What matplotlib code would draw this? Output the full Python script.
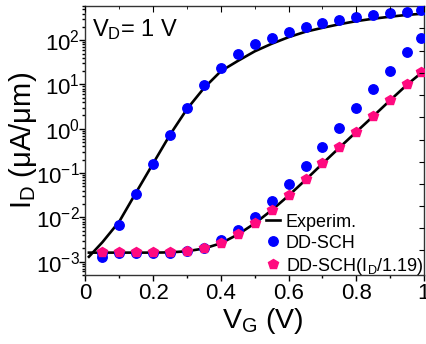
import matplotlib
matplotlib.use("Agg")
import matplotlib.pyplot as plt
from matplotlib.ticker import LogLocator, FixedLocator, MultipleLocator, NullFormatter, LogFormatterSciNotation

plt.rcParams['font.family'] = ['Liberation Sans', 'DejaVu Sans']
plt.rcParams['mathtext.fontset'] = 'custom'
plt.rcParams['mathtext.rm'] = 'Liberation Sans'
plt.rcParams['mathtext.it'] = 'Liberation Sans:italic'
plt.rcParams['mathtext.bf'] = 'Liberation Sans:bold'
plt.rcParams['mathtext.sf'] = 'Liberation Sans'

# ---- data ----
vg_pts = [0.05, 0.10, 0.15, 0.20, 0.25, 0.30, 0.35, 0.40, 0.45, 0.50,
          0.55, 0.60, 0.65, 0.70, 0.75, 0.80, 0.85, 0.90, 0.95, 0.99]

# DD-SCH, device with low threshold (left branch)
sch_left = [1.3e-3, 6.7e-3, 0.033, 0.158, 0.71, 2.9, 9.7, 24, 48, 81,
            114, 153, 195, 240, 281, 333, 370, 410, 440, 488]

# DD-SCH, device with high threshold (right branch)
sch_right = [1.6e-3, 1.6e-3, 1.6e-3, 1.6e-3, 1.6e-3, 1.75e-3, 2.05e-3, 3.1e-3, 5.2e-3, 0.0104,
             0.0234, 0.056, 0.147, 0.394, 1.06, 2.9, 7.8, 20, 53, 114]

# DD-SCH (I_D/1.19)
sch_scaled = [1.63e-3, 1.63e-3, 1.63e-3, 1.63e-3, 1.63e-3, 1.75e-3, 2.0e-3, 2.6e-3, 4.15e-3, 7.4e-3,
              0.0147, 0.032, 0.072, 0.166, 0.38, 0.86, 1.94, 4.5, 10.1, 19.4]

# Experimental curves
vg_exp = [0.01, 0.05, 0.10, 0.15, 0.20, 0.25, 0.30, 0.35, 0.40, 0.45, 0.50,
          0.55, 0.60, 0.65, 0.70, 0.75, 0.80, 0.85, 0.90, 0.95, 1.00]
exp_left = [1.29e-3, 2.75e-3, 8.1e-3, 0.037, 0.166, 0.74, 2.8, 8.3, 20, 34, 56,
            83, 117, 155, 190, 229, 269, 305, 339, 372, 398]
exp_right = [1.6e-3, 1.6e-3, 1.6e-3, 1.6e-3, 1.6e-3, 1.62e-3, 1.72e-3, 1.98e-3, 2.6e-3, 4.1e-3, 7.3e-3,
             0.0145, 0.031, 0.070, 0.163, 0.375, 0.85, 1.92, 4.4, 9.9, 20.5]

xticks = [0, 0.2, 0.4, 0.6, 0.8, 1.0]
xticklabels = ['0', '0.2', '0.4', '0.6', '0.8', '1']

blue = '#0000FF'
pink = '#FF0A7F'

fig = plt.figure(figsize=(4.27, 3.44), dpi=100)
ax = fig.add_axes([85.5/427, 1 - 275/344, (424 - 85.5)/427, (275 - 5.7)/344])

ax.plot(vg_exp, exp_left, color='black', lw=1.9, zorder=2, label='Experim.')
ax.plot(vg_exp, exp_right, color='black', lw=1.9, zorder=2)
ax.plot(vg_pts, sch_left, 'o', color=blue, ms=6.8, mec=blue, zorder=3, label='DD-SCH')
ax.plot(vg_pts, sch_right, 'o', color=blue, ms=6.8, mec=blue, zorder=3)
ax.plot(vg_pts, sch_scaled, 'p', color=pink, ms=7.8, mec=pink, zorder=4,
        label=r'DD-SCH(I$_\mathrm{D}$/1.19)')

ax.set_yscale('log')
ax.set_xlim(0, 1.0)
ax.set_ylim(5e-4, 600)

ax.set_xticks(xticks)
ax.set_xticklabels(xticklabels)
ax.xaxis.set_minor_locator(MultipleLocator(0.1))
ax.yaxis.set_major_locator(LogLocator(base=10, numticks=20))
ax.yaxis.set_minor_locator(LogLocator(base=10, subs=range(2, 10), numticks=100))
ax.yaxis.set_minor_formatter(NullFormatter())
ax.yaxis.set_major_formatter(LogFormatterSciNotation())

ax.tick_params(which='both', direction='out', labelsize=16, width=1.0)
ax.tick_params(axis='x', pad=2)
ax.tick_params(axis='y', pad=0)
ax.tick_params(which='major', length=4)
ax.tick_params(which='minor', length=2.5)
for s in ax.spines.values():
    s.set_linewidth(1.0)
    s.set_color('#333333')

# inward mirror ticks on top and right
axt = ax.twiny()
axt.set_xlim(ax.get_xlim())
axt.set_xticks(xticks)
axt.xaxis.set_minor_locator(MultipleLocator(0.1))
axt.tick_params(which='both', direction='in', labeltop=False, top=True)
axt.tick_params(which='major', length=4)
axt.tick_params(which='minor', length=2.5)
axr = ax.twinx()
axr.set_yscale('log')
axr.set_ylim(ax.get_ylim())
axr.yaxis.set_major_locator(FixedLocator([1.86e2, 5.8e1, 1.8e1, 5.7, 1.8, 0.57, 0.18, 0.057, 0.018, 0.0057, 0.0018]))
axr.yaxis.set_minor_locator(FixedLocator([]))
axr.tick_params(which='both', direction='in', labelright=False, right=True, length=3.5)
for a in (axt, axr):
    for s in a.spines.values():
        s.set_visible(False)

ax.set_xlabel(r'V$_\mathrm{G}$ (V)', fontsize=20.5)
ax.xaxis.set_label_coords(0.523, -0.115)
ax.set_ylabel(r'I$_\mathrm{D}$ (μA/μm)', fontsize=21)
ax.yaxis.set_label_coords(-0.137, 0.5)

ax.text(0.02, 0.91, r'V$_\mathrm{D}$= 1 V', transform=ax.transAxes, fontsize=17,
        va='center', ha='left')

leg = ax.legend(loc='lower right', bbox_to_anchor=(1.006, -0.016), frameon=False,
                fontsize=13, handlelength=0.8, handletextpad=0.3,
                labelspacing=0.22, borderpad=0.15, borderaxespad=0.0,
                numpoints=1)

fig.savefig('out.png', dpi=100)
